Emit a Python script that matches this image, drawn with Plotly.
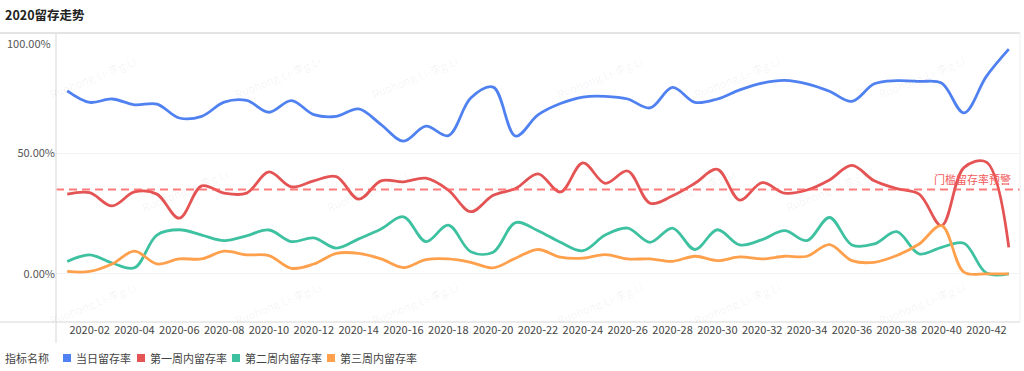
import plotly.graph_objects as go

weeks = [f"2020-{i:02d}" for i in range(1, 44)]
tick_labels = weeks[1::2]

series_names = ["当日留存率", "第一周内留存率", "第二周内留存率", "第三周内留存率"]
series_colors = ["#5081F0", "#E55454", "#3EC1A0", "#FFA04D"]

day_rate = [76.0, 71.2, 72.6, 70.2, 70.5, 64.7, 65.4, 71.3, 72.0, 67.1, 71.9,
            66.1, 65.4, 68.5, 62.0, 55.1, 61.3, 57.4, 73.0, 77.5, 57.2, 66.0,
            70.7, 73.4, 73.7, 72.6, 68.9, 77.4, 71.2, 72.6, 76.4, 79.2,
            80.3, 78.9, 75.8, 71.6, 78.9, 80.2, 79.9, 79.2, 66.8, 82.0, 93.3]
week1_rate = [33.1, 33.7, 28.2, 34.0, 33.1, 23.1, 36.5, 33.5, 33.5, 42.3, 36.1,
              38.6, 40.4, 31.0, 38.6, 38.2, 39.7, 34.8, 25.8, 32.6, 35.4, 41.5,
              34.0, 46.1, 37.6, 42.7, 29.3, 32.4, 37.6, 43.4, 30.6, 37.9,
              33.5, 34.8, 39.0, 45.0, 38.6, 35.4, 33.1, 20.0, 44.1, 46.4, 11.0]
week2_rate = [5.1, 7.9, 4.5, 2.5, 16.1, 18.3, 16.1, 13.8, 15.8, 18.2, 13.4,
              14.9, 10.7, 14.5, 18.6, 23.7, 13.4, 20.2, 9.2, 9.0, 21.3, 17.9,
              13.1, 9.6, 16.1, 19.0, 13.1, 19.0, 10.1, 18.3, 12.0, 14.2,
              17.9, 13.8, 23.4, 12.0, 12.4, 17.5, 8.3, 11.0, 12.7, 0.3, 0.0]
week3_rate = [1.0, 1.0, 4.1, 9.4, 4.1, 6.2, 6.2, 9.4, 7.9, 7.6, 2.3,
              4.1, 8.5, 8.5, 6.2, 2.6, 5.9, 6.2, 4.8, 2.5, 6.5, 10.1,
              6.9, 6.5, 8.0, 6.2, 6.2, 5.2, 7.3, 5.5, 7.0, 6.2,
              7.3, 7.3, 12.1, 5.5, 4.8, 7.6, 12.4, 20.0, 0.7, 0.0, 0.0]
y_ticks = [0, 50, 100]
threshold = 35.0
threshold_label = "门槛留存率预警"
title_text = "2020留存走势"
legend_title = "指标名称"
watermark = "Ruohong.Li-李g.Li"

W, H = 1024, 371
ML, MR, MT, MB = 56, 4, 33, 49
PW, PH = W - ML - MR, H - MT - MB
FONT = "Noto Sans CJK SC, Noto Sans, sans-serif"


def px(xp):
    return (xp - ML) / PW


def py(yp):
    return (H - MB - yp) / PH


fig = go.Figure()
all_series = [day_rate, week1_rate, week2_rate, week3_rate]
for name, color, vals in zip(series_names, series_colors, all_series):
    fig.add_trace(go.Scatter(
        x=weeks, y=vals, mode="lines", name=name, showlegend=False,
        line=dict(color=color, width=2.8, shape="spline", smoothing=1.0),
        hoverinfo="x+y+name"))

# threshold line
fig.add_shape(type="line", xref="paper", x0=0, x1=1, yref="y", y0=threshold, y1=threshold,
              line=dict(color="rgba(255,90,90,0.8)", width=2, dash="8px,5px"))
fig.add_annotation(xref="paper", x=1, xanchor="right", xshift=-7, yref="y", y=threshold,
                   yanchor="bottom", yshift=1, text=threshold_label, showarrow=False,
                   font=dict(color="#F25A5A", size=11, family=FONT))

# frame lines
frame = "#E4E4E4"
fig.add_shape(type="line", xref="paper", yref="paper", x0=px(0), x1=1, y0=1, y1=1,
              line=dict(color=frame, width=2))
fig.add_shape(type="line", xref="paper", yref="paper", x0=px(0), x1=1, y0=0, y1=0,
              line=dict(color=frame, width=1.5))
fig.add_shape(type="line", xref="paper", yref="paper", x0=0, x1=0, y0=py(343), y1=1,
              line=dict(color=frame, width=1.5))
fig.add_shape(type="line", xref="paper", yref="paper", x0=1, x1=1, y0=0, y1=1,
              line=dict(color="#EEEEEE", width=1))

# top y label sits just below the frame line
fig.add_annotation(xref="paper", x=0, xanchor="right", xshift=-3, yref="y", y=y_ticks[-1],
                   yanchor="middle", yshift=-10, text=f"{y_ticks[-1]:.2f}%", showarrow=False,
                   font=dict(size=11, color="#555", family=FONT))

# title
fig.add_annotation(xref="paper", yref="paper", x=px(3), xanchor="left", y=py(15),
                   yanchor="middle", text="<b>" + title_text + "</b>", showarrow=False,
                   font=dict(size=12.5, color="#222", family=FONT))

# legend (ECharts-style, squares close to labels)
fig.add_annotation(xref="paper", yref="paper", x=px(3), xanchor="left", y=py(358),
                   yanchor="middle", text=legend_title, showarrow=False,
                   font=dict(size=11, color="#444", family=FONT))
sq_centers = [67, 141, 236, 331]
for name, color, cx in zip(series_names, series_colors, sq_centers):
    fig.add_shape(type="rect", xref="paper", yref="paper", x0=px(cx - 4), x1=px(cx + 4),
                  y0=py(362), y1=py(354), fillcolor=color, line=dict(width=0))
    fig.add_annotation(xref="paper", yref="paper", x=px(cx + 7), xanchor="left", y=py(358),
                       yanchor="middle", text=name, showarrow=False,
                       font=dict(size=11, color="#444", family=FONT))

# watermarks
wm_rows = [(50, 45), (190, 137), (330, 45)]
for yy, x_start in wm_rows:
    xx = x_start
    while xx < W:
        fig.add_annotation(xref="paper", yref="paper", x=px(xx), y=py(yy), text=watermark,
                           showarrow=False, textangle=-22,
                           font=dict(color="rgba(0,0,0,0.06)", size=11, family=FONT))
        xx += 185

fig.update_layout(
    width=W, height=H,
    margin=dict(l=ML, r=MR, t=MT, b=MB, autoexpand=False),
    paper_bgcolor="white", plot_bgcolor="white",
    font=dict(family=FONT, size=11, color="#444"),
    showlegend=False,
    xaxis=dict(type="category", range=[-0.5, 42.5], tickmode="array", tickvals=tick_labels,
               ticktext=tick_labels, showgrid=False, zeroline=False, showline=False,
               ticks="", tickfont=dict(size=11, color="#444"), fixedrange=True,
               automargin=False),
    yaxis=dict(range=[-20, 100], tickmode="array", tickvals=y_ticks,
               ticktext=[f"{v:.2f}%" for v in y_ticks[:-1]] + [""],
               showgrid=True, gridcolor="#F2F2F2", gridwidth=1, zeroline=False,
               showline=False, ticks="", tickfont=dict(size=11, color="#555"),
               fixedrange=True, automargin=False),
)

fig.write_html(
    "out.html",
    config={"displayModeBar": False},
    post_script="document.body.style.margin='0';document.body.style.overflow='hidden';",
)
